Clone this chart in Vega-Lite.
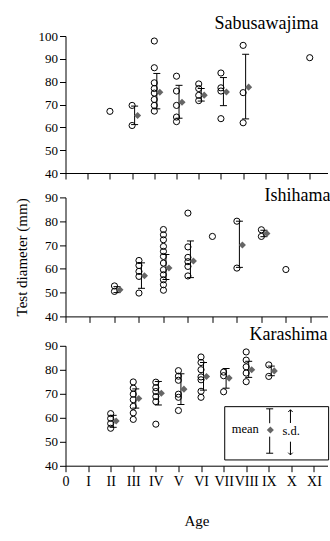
{
  "$schema": "https://vega.github.io/schema/vega-lite/v6.json",
  "padding": {"left": 13.5, "top": 14, "right": 0, "bottom": 5},
  "background": "white",
  "config": {
    "font": "Liberation Serif",
    "view": {"stroke": null},
    "axis": {"grid": false, "domainColor": "black", "tickColor": "black", "labelColor": "black", "titleColor": "black", "labelFont": "Liberation Serif", "titleFont": "Liberation Serif", "labelFontSize": 13, "titleFontWeight": "normal", "tickSize": 6, "domainWidth": 1, "tickWidth": 1, "labelPadding": 2},
    "title": {"font": "Liberation Serif", "fontWeight": "normal", "color": "black", "fontSize": 18, "frame": "group"}
  },
  "datasets": {
    "pts": [
      {"site": "Sabusawajima", "age": 2, "d": 67},
      {"site": "Sabusawajima", "age": 3, "d": 69.6},
      {"site": "Sabusawajima", "age": 3, "d": 60.8},
      {"site": "Sabusawajima", "age": 4, "d": 97.8},
      {"site": "Sabusawajima", "age": 4, "d": 86.1},
      {"site": "Sabusawajima", "age": 4, "d": 79.5},
      {"site": "Sabusawajima", "age": 4, "d": 77},
      {"site": "Sabusawajima", "age": 4, "d": 75},
      {"site": "Sabusawajima", "age": 4, "d": 72.2},
      {"site": "Sabusawajima", "age": 4, "d": 69.6},
      {"site": "Sabusawajima", "age": 4, "d": 67.1},
      {"site": "Sabusawajima", "age": 5, "d": 82.4},
      {"site": "Sabusawajima", "age": 5, "d": 75.9},
      {"site": "Sabusawajima", "age": 5, "d": 69.6},
      {"site": "Sabusawajima", "age": 5, "d": 64.5},
      {"site": "Sabusawajima", "age": 5, "d": 62.5},
      {"site": "Sabusawajima", "age": 6, "d": 79},
      {"site": "Sabusawajima", "age": 6, "d": 77},
      {"site": "Sabusawajima", "age": 6, "d": 74},
      {"site": "Sabusawajima", "age": 6, "d": 71.7},
      {"site": "Sabusawajima", "age": 7, "d": 83.8},
      {"site": "Sabusawajima", "age": 7, "d": 77.3},
      {"site": "Sabusawajima", "age": 7, "d": 75.9},
      {"site": "Sabusawajima", "age": 7, "d": 63.8},
      {"site": "Sabusawajima", "age": 8, "d": 95.9},
      {"site": "Sabusawajima", "age": 8, "d": 75.2},
      {"site": "Sabusawajima", "age": 8, "d": 62},
      {"site": "Sabusawajima", "age": 11, "d": 90.5},
      {"site": "Ishihama", "age": 2, "d": 52.8},
      {"site": "Ishihama", "age": 2, "d": 50.5},
      {"site": "Ishihama", "age": 3, "d": 63.5},
      {"site": "Ishihama", "age": 3, "d": 61.4},
      {"site": "Ishihama", "age": 3, "d": 58.9},
      {"site": "Ishihama", "age": 3, "d": 56.8},
      {"site": "Ishihama", "age": 3, "d": 49.8},
      {"site": "Ishihama", "age": 4, "d": 76.5},
      {"site": "Ishihama", "age": 4, "d": 74.3},
      {"site": "Ishihama", "age": 4, "d": 72.2},
      {"site": "Ishihama", "age": 4, "d": 69.4},
      {"site": "Ishihama", "age": 4, "d": 67.3},
      {"site": "Ishihama", "age": 4, "d": 65.2},
      {"site": "Ishihama", "age": 4, "d": 62.4},
      {"site": "Ishihama", "age": 4, "d": 59.6},
      {"site": "Ishihama", "age": 4, "d": 57.5},
      {"site": "Ishihama", "age": 4, "d": 55.4},
      {"site": "Ishihama", "age": 4, "d": 53.3},
      {"site": "Ishihama", "age": 4, "d": 51},
      {"site": "Ishihama", "age": 5, "d": 83.4},
      {"site": "Ishihama", "age": 5, "d": 69.2},
      {"site": "Ishihama", "age": 5, "d": 64.8},
      {"site": "Ishihama", "age": 5, "d": 63},
      {"site": "Ishihama", "age": 5, "d": 61},
      {"site": "Ishihama", "age": 5, "d": 57},
      {"site": "Ishihama", "age": 6, "d": 73.6},
      {"site": "Ishihama", "age": 7, "d": 80},
      {"site": "Ishihama", "age": 7, "d": 60.3},
      {"site": "Ishihama", "age": 8, "d": 76.4},
      {"site": "Ishihama", "age": 8, "d": 73.6},
      {"site": "Ishihama", "age": 9, "d": 59.7},
      {"site": "Karashima", "age": 2, "d": 61.7},
      {"site": "Karashima", "age": 2, "d": 59.7},
      {"site": "Karashima", "age": 2, "d": 57.6},
      {"site": "Karashima", "age": 2, "d": 55.6},
      {"site": "Karashima", "age": 3, "d": 74.9},
      {"site": "Karashima", "age": 3, "d": 72.3},
      {"site": "Karashima", "age": 3, "d": 69.8},
      {"site": "Karashima", "age": 3, "d": 67.5},
      {"site": "Karashima", "age": 3, "d": 64.7},
      {"site": "Karashima", "age": 3, "d": 62},
      {"site": "Karashima", "age": 3, "d": 59.3},
      {"site": "Karashima", "age": 4, "d": 74.8},
      {"site": "Karashima", "age": 4, "d": 72.5},
      {"site": "Karashima", "age": 4, "d": 70.9},
      {"site": "Karashima", "age": 4, "d": 68.8},
      {"site": "Karashima", "age": 4, "d": 66.7},
      {"site": "Karashima", "age": 4, "d": 57.3},
      {"site": "Karashima", "age": 5, "d": 79.6},
      {"site": "Karashima", "age": 5, "d": 77.3},
      {"site": "Karashima", "age": 5, "d": 75.6},
      {"site": "Karashima", "age": 5, "d": 69.8},
      {"site": "Karashima", "age": 5, "d": 68.5},
      {"site": "Karashima", "age": 5, "d": 63},
      {"site": "Karashima", "age": 6, "d": 85.3},
      {"site": "Karashima", "age": 6, "d": 83},
      {"site": "Karashima", "age": 6, "d": 80},
      {"site": "Karashima", "age": 6, "d": 77},
      {"site": "Karashima", "age": 6, "d": 75.8},
      {"site": "Karashima", "age": 6, "d": 71},
      {"site": "Karashima", "age": 6, "d": 68.5},
      {"site": "Karashima", "age": 7, "d": 79},
      {"site": "Karashima", "age": 7, "d": 77.5},
      {"site": "Karashima", "age": 7, "d": 70.8},
      {"site": "Karashima", "age": 8, "d": 87.4},
      {"site": "Karashima", "age": 8, "d": 84},
      {"site": "Karashima", "age": 8, "d": 81.2},
      {"site": "Karashima", "age": 8, "d": 78.6},
      {"site": "Karashima", "age": 8, "d": 75},
      {"site": "Karashima", "age": 9, "d": 82},
      {"site": "Karashima", "age": 9, "d": 77.2}
    ],
    "stats": [
      {"site": "Sabusawajima", "age": 3, "mean": 65.2, "lo": 61.2, "hi": 69.3},
      {"site": "Sabusawajima", "age": 4, "mean": 75.4, "lo": 68.1, "hi": 83.6},
      {"site": "Sabusawajima", "age": 5, "mean": 71, "lo": 64, "hi": 78.4},
      {"site": "Sabusawajima", "age": 6, "mean": 74.1, "lo": 71.5, "hi": 77},
      {"site": "Sabusawajima", "age": 7, "mean": 75.5, "lo": 69.5, "hi": 81.8},
      {"site": "Sabusawajima", "age": 8, "mean": 77.6, "lo": 63.7, "hi": 92},
      {"site": "Ishihama", "age": 2, "mean": 51.2, "lo": 50, "hi": 52.5},
      {"site": "Ishihama", "age": 3, "mean": 57.1, "lo": 51.8, "hi": 62.5},
      {"site": "Ishihama", "age": 4, "mean": 60.3, "lo": 55.5, "hi": 66},
      {"site": "Ishihama", "age": 5, "mean": 63.3, "lo": 56.3, "hi": 71.7},
      {"site": "Ishihama", "age": 7, "mean": 70, "lo": 60.6, "hi": 80},
      {"site": "Ishihama", "age": 8, "mean": 74.8, "lo": 73.5, "hi": 76.2},
      {"site": "Karashima", "age": 2, "mean": 58.6, "lo": 56, "hi": 61},
      {"site": "Karashima", "age": 3, "mean": 68, "lo": 64, "hi": 72},
      {"site": "Karashima", "age": 4, "mean": 70.2, "lo": 65.3, "hi": 75.1},
      {"site": "Karashima", "age": 5, "mean": 71.9, "lo": 65.5, "hi": 78.3},
      {"site": "Karashima", "age": 6, "mean": 77.2, "lo": 71.5, "hi": 83},
      {"site": "Karashima", "age": 7, "mean": 76.5, "lo": 72.3, "hi": 80.5},
      {"site": "Karashima", "age": 8, "mean": 80, "lo": 76.8, "hi": 83.5},
      {"site": "Karashima", "age": 9, "mean": 79.5, "lo": 77.5, "hi": 81.5}
    ],
    "blank": [{"k": 1}]
  },
  "vconcat": [
    {
      "width": 262, "height": 137,
      "title": {"text": "Sabusawajima", "anchor": "end", "baseline": "alphabetic", "offset": -16.5, "dx": -9},
      "layer": [
        {"data": {"name": "pts"}, "transform": [{"filter": "datum.site === 'Sabusawajima'"}],
         "mark": {"type": "point", "shape": "circle", "size": 38, "filled": false, "stroke": "black", "strokeWidth": 1, "opacity": 1},
         "encoding": {
           "x": {"field": "age", "type": "quantitative", "scale": {"domain": [0, 11.8], "nice": false, "zero": false}, "axis": {"values": [0,1,2,3,4,5,6,7,8,9,10,11], "labels": false, "title": null}},
           "y": {"field": "d", "type": "quantitative", "scale": {"domain": [40, 100], "nice": false, "zero": false}, "axis": {"values": [40,50,60,70,80,90,100], "title": null}}}},
        {"data": {"name": "stats"}, "transform": [{"filter": "datum.site === 'Sabusawajima'"}],
         "mark": {"type": "rule", "color": "black", "strokeWidth": 1, "xOffset": 2.5},
         "encoding": {
           "x": {"field": "age", "type": "quantitative", "scale": {"domain": [0, 11.8], "nice": false, "zero": false}, "axis": {"values": [0,1,2,3,4,5,6,7,8,9,10,11], "labels": false, "title": null}},
           "y": {"field": "lo", "type": "quantitative", "scale": {"domain": [40, 100], "nice": false, "zero": false}, "axis": {"values": [40,50,60,70,80,90,100], "title": null}},
           "y2": {"field": "hi"}}},
        {"data": {"name": "stats"}, "transform": [{"filter": "datum.site === 'Sabusawajima'"}],
         "mark": {"type": "tick", "orient": "horizontal", "size": 7, "thickness": 1, "color": "black", "opacity": 1, "xOffset": 2.5},
         "encoding": {
           "x": {"field": "age", "type": "quantitative", "scale": {"domain": [0, 11.8], "nice": false, "zero": false}, "axis": {"values": [0,1,2,3,4,5,6,7,8,9,10,11], "labels": false, "title": null}},
           "y": {"field": "hi", "type": "quantitative", "scale": {"domain": [40, 100], "nice": false, "zero": false}, "axis": {"values": [40,50,60,70,80,90,100], "title": null}}}},
        {"data": {"name": "stats"}, "transform": [{"filter": "datum.site === 'Sabusawajima'"}],
         "mark": {"type": "tick", "orient": "horizontal", "size": 7, "thickness": 1, "color": "black", "opacity": 1, "xOffset": 2.5},
         "encoding": {
           "x": {"field": "age", "type": "quantitative", "scale": {"domain": [0, 11.8], "nice": false, "zero": false}, "axis": {"values": [0,1,2,3,4,5,6,7,8,9,10,11], "labels": false, "title": null}},
           "y": {"field": "lo", "type": "quantitative", "scale": {"domain": [40, 100], "nice": false, "zero": false}, "axis": {"values": [40,50,60,70,80,90,100], "title": null}}}},
        {"data": {"name": "stats"}, "transform": [{"filter": "datum.site === 'Sabusawajima'"}],
         "mark": {"type": "point", "shape": "diamond", "size": 50, "filled": true, "color": "#666666", "opacity": 1, "xOffset": 5.5},
         "encoding": {
           "x": {"field": "age", "type": "quantitative", "scale": {"domain": [0, 11.8], "nice": false, "zero": false}, "axis": {"values": [0,1,2,3,4,5,6,7,8,9,10,11], "labels": false, "title": null}},
           "y": {"field": "mean", "type": "quantitative", "scale": {"domain": [40, 100], "nice": false, "zero": false}, "axis": {"values": [40,50,60,70,80,90,100], "title": null}}}}
      ]
    },
    {
      "width": 262, "height": 119,
      "title": {"text": "Ishihama", "anchor": "end", "baseline": "alphabetic", "offset": -28, "dx": 3},
      "layer": [
        {"data": {"name": "pts"}, "transform": [{"filter": "datum.site === 'Ishihama'"}],
         "mark": {"type": "point", "shape": "circle", "size": 38, "filled": false, "stroke": "black", "strokeWidth": 1, "opacity": 1},
         "encoding": {
           "x": {"field": "age", "type": "quantitative", "scale": {"domain": [0, 10.7], "nice": false, "zero": false}, "axis": {"values": [0,1,2,3,4,5,6,7,8,9,10], "labels": false, "title": null}},
           "y": {"field": "d", "type": "quantitative", "scale": {"domain": [40, 90], "nice": false, "zero": false}, "axis": {"values": [40,50,60,70,80,90], "title": "Test diameter (mm)", "titleFontSize": 15, "titlePadding": 15.5}}}},
        {"data": {"name": "stats"}, "transform": [{"filter": "datum.site === 'Ishihama'"}],
         "mark": {"type": "rule", "color": "black", "strokeWidth": 1, "xOffset": 2.5},
         "encoding": {
           "x": {"field": "age", "type": "quantitative", "scale": {"domain": [0, 10.7], "nice": false, "zero": false}, "axis": {"values": [0,1,2,3,4,5,6,7,8,9,10], "labels": false, "title": null}},
           "y": {"field": "lo", "type": "quantitative", "scale": {"domain": [40, 90], "nice": false, "zero": false}, "axis": {"values": [40,50,60,70,80,90], "title": "Test diameter (mm)", "titleFontSize": 15, "titlePadding": 15.5}},
           "y2": {"field": "hi"}}},
        {"data": {"name": "stats"}, "transform": [{"filter": "datum.site === 'Ishihama'"}],
         "mark": {"type": "tick", "orient": "horizontal", "size": 7, "thickness": 1, "color": "black", "opacity": 1, "xOffset": 2.5},
         "encoding": {
           "x": {"field": "age", "type": "quantitative", "scale": {"domain": [0, 10.7], "nice": false, "zero": false}, "axis": {"values": [0,1,2,3,4,5,6,7,8,9,10], "labels": false, "title": null}},
           "y": {"field": "hi", "type": "quantitative", "scale": {"domain": [40, 90], "nice": false, "zero": false}, "axis": {"values": [40,50,60,70,80,90], "title": "Test diameter (mm)", "titleFontSize": 15, "titlePadding": 15.5}}}},
        {"data": {"name": "stats"}, "transform": [{"filter": "datum.site === 'Ishihama'"}],
         "mark": {"type": "tick", "orient": "horizontal", "size": 7, "thickness": 1, "color": "black", "opacity": 1, "xOffset": 2.5},
         "encoding": {
           "x": {"field": "age", "type": "quantitative", "scale": {"domain": [0, 10.7], "nice": false, "zero": false}, "axis": {"values": [0,1,2,3,4,5,6,7,8,9,10], "labels": false, "title": null}},
           "y": {"field": "lo", "type": "quantitative", "scale": {"domain": [40, 90], "nice": false, "zero": false}, "axis": {"values": [40,50,60,70,80,90], "title": "Test diameter (mm)", "titleFontSize": 15, "titlePadding": 15.5}}}},
        {"data": {"name": "stats"}, "transform": [{"filter": "datum.site === 'Ishihama'"}],
         "mark": {"type": "point", "shape": "diamond", "size": 50, "filled": true, "color": "#666666", "opacity": 1, "xOffset": 5.5},
         "encoding": {
           "x": {"field": "age", "type": "quantitative", "scale": {"domain": [0, 10.7], "nice": false, "zero": false}, "axis": {"values": [0,1,2,3,4,5,6,7,8,9,10], "labels": false, "title": null}},
           "y": {"field": "mean", "type": "quantitative", "scale": {"domain": [40, 90], "nice": false, "zero": false}, "axis": {"values": [40,50,60,70,80,90], "title": "Test diameter (mm)", "titleFontSize": 15, "titlePadding": 15.5}}}}
      ]
    },
    {
      "width": 262, "height": 124.9,
      "title": {"text": "Karashima", "anchor": "end", "baseline": "alphabetic", "offset": -18.4, "dx": 0},
      "layer": [
        {"data": {"name": "pts"}, "transform": [{"filter": "datum.site === 'Karashima'"}],
         "mark": {"type": "point", "shape": "circle", "size": 38, "filled": false, "stroke": "black", "strokeWidth": 1, "opacity": 1},
         "encoding": {
           "x": {"field": "age", "type": "quantitative", "scale": {"domain": [0, 11.6], "nice": false, "zero": false}, "axis": {"values": [0,1,2,3,4,5,6,7,8,9,10,11], "labelExpr": "['0','I','II','III','IV','V','VI','VII','VIII','IX','X','XI'][datum.value]", "labelFontSize": 14, "labelOverlap": false, "labelFlush": false, "labelPadding": 3, "title": "Age", "titleFontSize": 15, "titlePadding": 25}},
           "y": {"field": "d", "type": "quantitative", "scale": {"domain": [40, 90], "range": [124.9, 4.9], "nice": false, "zero": false}, "axis": {"values": [40,50,60,70,80,90], "title": null}}}},
        {"data": {"name": "stats"}, "transform": [{"filter": "datum.site === 'Karashima'"}],
         "mark": {"type": "rule", "color": "black", "strokeWidth": 1, "xOffset": 2.5},
         "encoding": {
           "x": {"field": "age", "type": "quantitative", "scale": {"domain": [0, 11.6], "nice": false, "zero": false}, "axis": {"values": [0,1,2,3,4,5,6,7,8,9,10,11], "labelExpr": "['0','I','II','III','IV','V','VI','VII','VIII','IX','X','XI'][datum.value]", "labelFontSize": 14, "labelOverlap": false, "labelFlush": false, "labelPadding": 3, "title": "Age", "titleFontSize": 15, "titlePadding": 25}},
           "y": {"field": "lo", "type": "quantitative", "scale": {"domain": [40, 90], "range": [124.9, 4.9], "nice": false, "zero": false}, "axis": {"values": [40,50,60,70,80,90], "title": null}},
           "y2": {"field": "hi"}}},
        {"data": {"name": "stats"}, "transform": [{"filter": "datum.site === 'Karashima'"}],
         "mark": {"type": "tick", "orient": "horizontal", "size": 7, "thickness": 1, "color": "black", "opacity": 1, "xOffset": 2.5},
         "encoding": {
           "x": {"field": "age", "type": "quantitative", "scale": {"domain": [0, 11.6], "nice": false, "zero": false}, "axis": {"values": [0,1,2,3,4,5,6,7,8,9,10,11], "labelExpr": "['0','I','II','III','IV','V','VI','VII','VIII','IX','X','XI'][datum.value]", "labelFontSize": 14, "labelOverlap": false, "labelFlush": false, "labelPadding": 3, "title": "Age", "titleFontSize": 15, "titlePadding": 25}},
           "y": {"field": "hi", "type": "quantitative", "scale": {"domain": [40, 90], "range": [124.9, 4.9], "nice": false, "zero": false}, "axis": {"values": [40,50,60,70,80,90], "title": null}}}},
        {"data": {"name": "stats"}, "transform": [{"filter": "datum.site === 'Karashima'"}],
         "mark": {"type": "tick", "orient": "horizontal", "size": 7, "thickness": 1, "color": "black", "opacity": 1, "xOffset": 2.5},
         "encoding": {
           "x": {"field": "age", "type": "quantitative", "scale": {"domain": [0, 11.6], "nice": false, "zero": false}, "axis": {"values": [0,1,2,3,4,5,6,7,8,9,10,11], "labelExpr": "['0','I','II','III','IV','V','VI','VII','VIII','IX','X','XI'][datum.value]", "labelFontSize": 14, "labelOverlap": false, "labelFlush": false, "labelPadding": 3, "title": "Age", "titleFontSize": 15, "titlePadding": 25}},
           "y": {"field": "lo", "type": "quantitative", "scale": {"domain": [40, 90], "range": [124.9, 4.9], "nice": false, "zero": false}, "axis": {"values": [40,50,60,70,80,90], "title": null}}}},
        {"data": {"name": "stats"}, "transform": [{"filter": "datum.site === 'Karashima'"}],
         "mark": {"type": "point", "shape": "diamond", "size": 50, "filled": true, "color": "#666666", "opacity": 1, "xOffset": 5.5},
         "encoding": {
           "x": {"field": "age", "type": "quantitative", "scale": {"domain": [0, 11.6], "nice": false, "zero": false}, "axis": {"values": [0,1,2,3,4,5,6,7,8,9,10,11], "labelExpr": "['0','I','II','III','IV','V','VI','VII','VIII','IX','X','XI'][datum.value]", "labelFontSize": 14, "labelOverlap": false, "labelFlush": false, "labelPadding": 3, "title": "Age", "titleFontSize": 15, "titlePadding": 25}},
           "y": {"field": "mean", "type": "quantitative", "scale": {"domain": [40, 90], "range": [124.9, 4.9], "nice": false, "zero": false}, "axis": {"values": [40,50,60,70,80,90], "title": null}}}},
        {"data": {"name": "blank"},
         "mark": {"type": "rect", "fill": "white", "stroke": "black", "strokeWidth": 1},
         "encoding": {
           "x": {"datum": 7.05, "type": "quantitative", "scale": {"domain": [0, 11.6], "nice": false, "zero": false}, "axis": {"values": [0,1,2,3,4,5,6,7,8,9,10,11], "labelExpr": "['0','I','II','III','IV','V','VI','VII','VIII','IX','X','XI'][datum.value]", "labelFontSize": 14, "labelOverlap": false, "labelFlush": false, "labelPadding": 3, "title": "Age", "titleFontSize": 15, "titlePadding": 25}},
           "x2": {"datum": 11.65},
           "y": {"datum": 64.6, "type": "quantitative", "scale": {"domain": [40, 90], "range": [124.9, 4.9], "nice": false, "zero": false}, "axis": {"values": [40,50,60,70,80,90], "title": null}},
           "y2": {"datum": 42.4}}},
        {"data": {"name": "blank"},
         "mark": {"type": "text", "text": "mean", "fontSize": 12.5, "align": "center", "baseline": "middle", "color": "black"},
         "encoding": {
           "x": {"datum": 7.96, "type": "quantitative", "scale": {"domain": [0, 11.6], "nice": false, "zero": false}, "axis": {"values": [0,1,2,3,4,5,6,7,8,9,10,11], "labelExpr": "['0','I','II','III','IV','V','VI','VII','VIII','IX','X','XI'][datum.value]", "labelFontSize": 14, "labelOverlap": false, "labelFlush": false, "labelPadding": 3, "title": "Age", "titleFontSize": 15, "titlePadding": 25}},
           "y": {"datum": 55.3, "type": "quantitative", "scale": {"domain": [40, 90], "range": [124.9, 4.9], "nice": false, "zero": false}, "axis": {"values": [40,50,60,70,80,90], "title": null}}}},
        {"data": {"name": "blank"},
         "mark": {"type": "text", "text": "s.d.", "fontSize": 12.5, "align": "center", "baseline": "middle", "color": "black"},
         "encoding": {
           "x": {"datum": 9.99, "type": "quantitative", "scale": {"domain": [0, 11.6], "nice": false, "zero": false}, "axis": {"values": [0,1,2,3,4,5,6,7,8,9,10,11], "labelExpr": "['0','I','II','III','IV','V','VI','VII','VIII','IX','X','XI'][datum.value]", "labelFontSize": 14, "labelOverlap": false, "labelFlush": false, "labelPadding": 3, "title": "Age", "titleFontSize": 15, "titlePadding": 25}},
           "y": {"datum": 54.6, "type": "quantitative", "scale": {"domain": [40, 90], "range": [124.9, 4.9], "nice": false, "zero": false}, "axis": {"values": [40,50,60,70,80,90], "title": null}}}},
        {"data": {"name": "blank"},
         "mark": {"type": "rule", "color": "black", "strokeWidth": 1},
         "encoding": {
           "x": {"datum": 9.96, "type": "quantitative", "scale": {"domain": [0, 11.6], "nice": false, "zero": false}, "axis": {"values": [0,1,2,3,4,5,6,7,8,9,10,11], "labelExpr": "['0','I','II','III','IV','V','VI','VII','VIII','IX','X','XI'][datum.value]", "labelFontSize": 14, "labelOverlap": false, "labelFlush": false, "labelPadding": 3, "title": "Age", "titleFontSize": 15, "titlePadding": 25}},
           "y": {"datum": 57.8, "type": "quantitative", "scale": {"domain": [40, 90], "range": [124.9, 4.9], "nice": false, "zero": false}, "axis": {"values": [40,50,60,70,80,90], "title": null}},
           "y2": {"datum": 63.3}}},
        {"data": {"name": "blank"},
         "mark": {"type": "rule", "color": "black", "strokeWidth": 1},
         "encoding": {
           "x": {"datum": 9.96, "type": "quantitative", "scale": {"domain": [0, 11.6], "nice": false, "zero": false}, "axis": {"values": [0,1,2,3,4,5,6,7,8,9,10,11], "labelExpr": "['0','I','II','III','IV','V','VI','VII','VIII','IX','X','XI'][datum.value]", "labelFontSize": 14, "labelOverlap": false, "labelFlush": false, "labelPadding": 3, "title": "Age", "titleFontSize": 15, "titlePadding": 25}},
           "y": {"datum": 44.5, "type": "quantitative", "scale": {"domain": [40, 90], "range": [124.9, 4.9], "nice": false, "zero": false}, "axis": {"values": [40,50,60,70,80,90], "title": null}},
           "y2": {"datum": 50}}},
        {"data": {"name": "blank"},
         "mark": {"type": "point", "shape": "M -1 1 L 0 0 L 1 1", "size": 20, "filled": false, "stroke": "black", "strokeWidth": 1, "opacity": 1},
         "encoding": {
           "x": {"datum": 9.96, "type": "quantitative", "scale": {"domain": [0, 11.6], "nice": false, "zero": false}, "axis": {"values": [0,1,2,3,4,5,6,7,8,9,10,11], "labelExpr": "['0','I','II','III','IV','V','VI','VII','VIII','IX','X','XI'][datum.value]", "labelFontSize": 14, "labelOverlap": false, "labelFlush": false, "labelPadding": 3, "title": "Age", "titleFontSize": 15, "titlePadding": 25}},
           "y": {"datum": 63.3, "type": "quantitative", "scale": {"domain": [40, 90], "range": [124.9, 4.9], "nice": false, "zero": false}, "axis": {"values": [40,50,60,70,80,90], "title": null}}}},
        {"data": {"name": "blank"},
         "mark": {"type": "point", "shape": "M -1 -1 L 0 0 L 1 -1", "size": 20, "filled": false, "stroke": "black", "strokeWidth": 1, "opacity": 1},
         "encoding": {
           "x": {"datum": 9.96, "type": "quantitative", "scale": {"domain": [0, 11.6], "nice": false, "zero": false}, "axis": {"values": [0,1,2,3,4,5,6,7,8,9,10,11], "labelExpr": "['0','I','II','III','IV','V','VI','VII','VIII','IX','X','XI'][datum.value]", "labelFontSize": 14, "labelOverlap": false, "labelFlush": false, "labelPadding": 3, "title": "Age", "titleFontSize": 15, "titlePadding": 25}},
           "y": {"datum": 44.5, "type": "quantitative", "scale": {"domain": [40, 90], "range": [124.9, 4.9], "nice": false, "zero": false}, "axis": {"values": [40,50,60,70,80,90], "title": null}}}},
        {"data": {"name": "blank"},
         "mark": {"type": "rule", "color": "black", "strokeWidth": 1},
         "encoding": {
           "x": {"datum": 9.04, "type": "quantitative", "scale": {"domain": [0, 11.6], "nice": false, "zero": false}, "axis": {"values": [0,1,2,3,4,5,6,7,8,9,10,11], "labelExpr": "['0','I','II','III','IV','V','VI','VII','VIII','IX','X','XI'][datum.value]", "labelFontSize": 14, "labelOverlap": false, "labelFlush": false, "labelPadding": 3, "title": "Age", "titleFontSize": 15, "titlePadding": 25}},
           "y": {"datum": 57.7, "type": "quantitative", "scale": {"domain": [40, 90], "range": [124.9, 4.9], "nice": false, "zero": false}, "axis": {"values": [40,50,60,70,80,90], "title": null}},
           "y2": {"datum": 63.7}}},
        {"data": {"name": "blank"},
         "mark": {"type": "rule", "color": "black", "strokeWidth": 1},
         "encoding": {
           "x": {"datum": 9.04, "type": "quantitative", "scale": {"domain": [0, 11.6], "nice": false, "zero": false}, "axis": {"values": [0,1,2,3,4,5,6,7,8,9,10,11], "labelExpr": "['0','I','II','III','IV','V','VI','VII','VIII','IX','X','XI'][datum.value]", "labelFontSize": 14, "labelOverlap": false, "labelFlush": false, "labelPadding": 3, "title": "Age", "titleFontSize": 15, "titlePadding": 25}},
           "y": {"datum": 45.2, "type": "quantitative", "scale": {"domain": [40, 90], "range": [124.9, 4.9], "nice": false, "zero": false}, "axis": {"values": [40,50,60,70,80,90], "title": null}},
           "y2": {"datum": 52.1}}},
        {"data": {"name": "blank"},
         "mark": {"type": "tick", "orient": "horizontal", "size": 7, "thickness": 1, "color": "black", "opacity": 1},
         "encoding": {
           "x": {"datum": 9.04, "type": "quantitative", "scale": {"domain": [0, 11.6], "nice": false, "zero": false}, "axis": {"values": [0,1,2,3,4,5,6,7,8,9,10,11], "labelExpr": "['0','I','II','III','IV','V','VI','VII','VIII','IX','X','XI'][datum.value]", "labelFontSize": 14, "labelOverlap": false, "labelFlush": false, "labelPadding": 3, "title": "Age", "titleFontSize": 15, "titlePadding": 25}},
           "y": {"datum": 63.7, "type": "quantitative", "scale": {"domain": [40, 90], "range": [124.9, 4.9], "nice": false, "zero": false}, "axis": {"values": [40,50,60,70,80,90], "title": null}}}},
        {"data": {"name": "blank"},
         "mark": {"type": "tick", "orient": "horizontal", "size": 7, "thickness": 1, "color": "black", "opacity": 1},
         "encoding": {
           "x": {"datum": 9.04, "type": "quantitative", "scale": {"domain": [0, 11.6], "nice": false, "zero": false}, "axis": {"values": [0,1,2,3,4,5,6,7,8,9,10,11], "labelExpr": "['0','I','II','III','IV','V','VI','VII','VIII','IX','X','XI'][datum.value]", "labelFontSize": 14, "labelOverlap": false, "labelFlush": false, "labelPadding": 3, "title": "Age", "titleFontSize": 15, "titlePadding": 25}},
           "y": {"datum": 45.2, "type": "quantitative", "scale": {"domain": [40, 90], "range": [124.9, 4.9], "nice": false, "zero": false}, "axis": {"values": [40,50,60,70,80,90], "title": null}}}},
        {"data": {"name": "blank"},
         "mark": {"type": "point", "shape": "diamond", "size": 50, "filled": true, "color": "#666666", "opacity": 1},
         "encoding": {
           "x": {"datum": 9.07, "type": "quantitative", "scale": {"domain": [0, 11.6], "nice": false, "zero": false}, "axis": {"values": [0,1,2,3,4,5,6,7,8,9,10,11], "labelExpr": "['0','I','II','III','IV','V','VI','VII','VIII','IX','X','XI'][datum.value]", "labelFontSize": 14, "labelOverlap": false, "labelFlush": false, "labelPadding": 3, "title": "Age", "titleFontSize": 15, "titlePadding": 25}},
           "y": {"datum": 54.9, "type": "quantitative", "scale": {"domain": [40, 90], "range": [124.9, 4.9], "nice": false, "zero": false}, "axis": {"values": [40,50,60,70,80,90], "title": null}}}}
      ]
    }
  ],
  "spacing": 24.4,
  "bounds": "flush"
}
